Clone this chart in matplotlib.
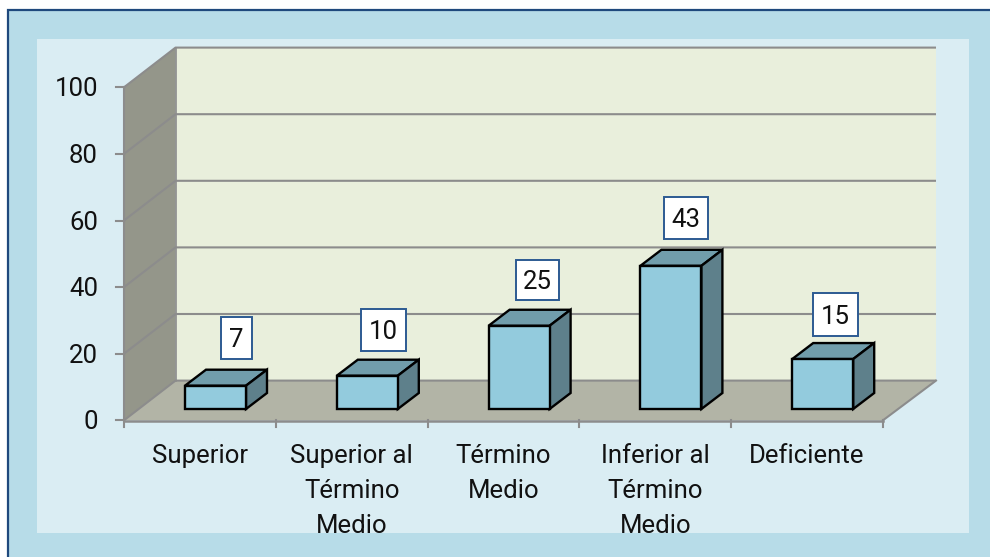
import matplotlib
matplotlib.use('Agg')
import matplotlib.pyplot as plt
from matplotlib.patches import Polygon, Rectangle

categories = [['Superior'], ['Superior al', 'Término', 'Medio'], ['Término', 'Medio'],
              ['Inferior al', 'Término', 'Medio'], ['Deficiente']]
values = [7, 10, 25, 43, 15]
y_ticks = [0, 20, 40, 60, 80, 100]

# label box left/top/right/bottom in pixels
label_boxes = [(221, 317, 252, 359), (361, 309, 406, 351), (516, 260, 559, 300),
               (664, 197, 708, 239), (813, 293, 858, 336)]

# 3d layout, all in pixels
x0, y0 = 124, 420.3
unit = 3.33
wall_dx, wall_dy = 51.5, -39.7
right_dx = 53
cat_w = 151.8
bar_w = 61
bar_left = 61
bar_base = 409
depth_dx, depth_dy = 21, -16
line_gap = 35
font_size = 18.5

plt.rcParams['font.family'] = ['Roboto', 'DejaVu Sans']

fig = plt.figure(figsize=(9.9, 5.57), dpi=100)
ax = fig.add_axes([0, 0, 1, 1])
ax.set_xlim(0, 990)
ax.set_ylim(557, 0)
ax.axis('off')

grey = '#8c8c8c'
ink = '#111111'

# frame, runs off the right and bottom edges
ax.add_patch(Rectangle((8, 10), 1100, 600, fc='#b7dce8', ec='#1f497d', lw=1.6, zorder=0))
ax.add_patch(Rectangle((37, 39), 932, 494, fc='#daedf3', ec='none', zorder=1))

x1 = x0 + cat_w * len(categories)
top = y0 - unit * max(y_ticks)
back_l = x0 + wall_dx
back_r = x1 + right_dx

# walls and floor
ax.add_patch(Polygon([(back_l, top + wall_dy), (back_r, top + wall_dy),
                      (back_r, y0 + wall_dy), (back_l, y0 + wall_dy)],
                     fc='#e9efdc', ec='none', zorder=2))
ax.add_patch(Polygon([(x0, top), (back_l, top + wall_dy),
                      (back_l, y0 + wall_dy), (x0, y0)],
                     fc='#94968a', ec='none', zorder=2))
ax.add_patch(Polygon([(x0, y0), (back_l, y0 + wall_dy),
                      (back_r, y0 + wall_dy), (x1, y0)],
                     fc='#b2b4a6', ec='none', zorder=2))

# gridlines and y ticks
for t in y_ticks:
    y = y0 - unit * t
    ax.plot([x0, back_l, back_r], [y, y + wall_dy, y + wall_dy],
            color=grey, lw=1.5, zorder=3, solid_capstyle='butt')
    ax.plot([x0 - 8, x0], [y, y], color=grey, lw=1.5, zorder=3)
    ax.text(x0 - 26, y + 9, str(t), ha='right', va='baseline', fontsize=font_size,
            color=ink, zorder=6)

ax.plot([x0, x0], [top, y0], color=grey, lw=1.5, zorder=3)
ax.plot([x0, x1], [y0 + 0.5, y0 + 0.5], color=grey, lw=1.8, zorder=3)
ax.plot([x1, back_r], [y0, y0 + wall_dy], color=grey, lw=1.5, zorder=3)
ax.plot([back_l, back_l], [top + wall_dy, y0 + wall_dy], color=grey, lw=1.2, zorder=3)

# x ticks and labels
for i in range(len(categories) + 1):
    xt = x0 + cat_w * i
    ax.plot([xt, xt], [y0, y0 + 7], color=grey, lw=1.5, zorder=3)
for i, lines in enumerate(categories):
    for j, line in enumerate(lines):
        ax.text(x0 + cat_w * (i + 0.5), 463 + line_gap * j, line, ha='center', va='baseline',
                fontsize=font_size, color=ink, zorder=6)

# bars
for i, v in enumerate(values):
    l = x0 + cat_w * i + bar_left
    r = l + bar_w
    t = bar_base - unit * v
    b = bar_base
    ax.add_patch(Polygon([(l, t), (l + depth_dx, t + depth_dy), (r + depth_dx, t + depth_dy), (r, t)],
                         fc='#719dab', ec='black', lw=1.7, joinstyle='miter', zorder=4))
    ax.add_patch(Polygon([(r, t), (r + depth_dx, t + depth_dy), (r + depth_dx, b + depth_dy), (r, b)],
                         fc='#5e808b', ec='black', lw=1.7, joinstyle='miter', zorder=4))
    ax.add_patch(Rectangle((l, t), bar_w, b - t, fc='#93cbdd', ec='black', lw=1.7, zorder=5))

# value labels
for v, (bl, bt, br, bb) in zip(values, label_boxes):
    ax.add_patch(Rectangle((bl, bt), br - bl, bb - bt, fc='white', ec='#2c5a92', lw=1.4, zorder=6))
    ax.text((bl + br) / 2, (bt + bb) / 2 + 9, str(v), ha='center', va='baseline', fontsize=font_size,
            color=ink, zorder=7)

fig.savefig('out.png', dpi=100)
